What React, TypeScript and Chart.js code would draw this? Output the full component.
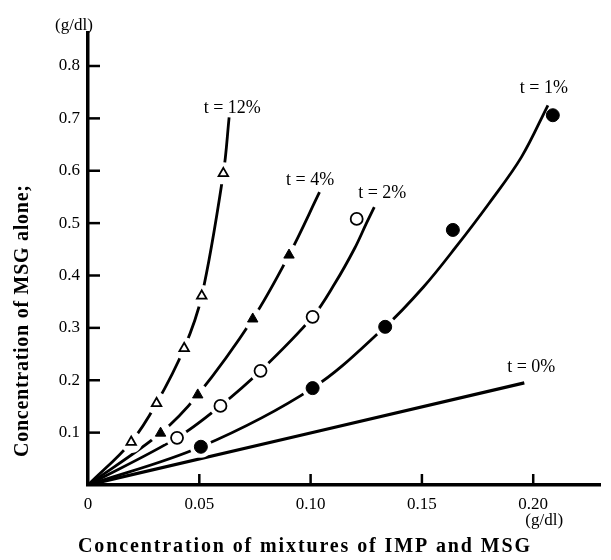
import React, { useEffect, useRef } from "react";
import { Chart, registerables } from "chart.js";

Chart.register(...registerables);

// ---- axis ticks ----
const xTicks = [0, 0.05, 0.1, 0.15, 0.2];
const yTicks = [0.1, 0.2, 0.3, 0.4, 0.5, 0.6, 0.7, 0.8];

// ---- measured points (markers) ----
const t12Marks = [[0.0194, 0.082], [0.0308, 0.156], [0.0432, 0.261], [0.0511, 0.361], [0.0608, 0.595]];
const t4Marks = [[0.0326, 0.099], [0.0493, 0.172], [0.074, 0.317], [0.0903, 0.439]];
const t2Marks = [[0.04, 0.09], [0.0595, 0.151], [0.0775, 0.218], [0.1009, 0.321], [0.1207, 0.508]];
const t1Marks = [[0.0507, 0.073], [0.1009, 0.185], [0.1335, 0.302], [0.1639, 0.487], [0.2088, 0.706]];

// ---- fitted curves ----
const t12Curve = [[0, 0], [0.0194, 0.082], [0.0308, 0.156], [0.0432, 0.261], [0.0511, 0.361], [0.0608, 0.595], [0.0634, 0.702]];
const t4Curve = [[0, 0], [0.0326, 0.099], [0.0493, 0.172], [0.074, 0.317], [0.0903, 0.439], [0.104, 0.559]];
const t2Curve = [[0, 0], [0.04, 0.09], [0.0595, 0.151], [0.0775, 0.218], [0.1009, 0.321], [0.111, 0.3855], [0.1198, 0.452], [0.1251, 0.5], [0.1286, 0.5305]];
const t1Curve = [[0, 0], [0.0507, 0.073], [0.1009, 0.185], [0.1335, 0.302], [0.1507, 0.378], [0.1652, 0.454], [0.1802, 0.538], [0.1947, 0.626], [0.2066, 0.725]];
const t0Curve = [[0, 0], [0.196, 0.195]];

// ---- curve labels ----
const curveLabelText = ["t = 12%", "t = 4%", "t = 2%", "t = 1%", "t = 0%"];
const curveLabelX = [0.0648, 0.0998, 0.1322, 0.2048, 0.1991];
const curveLabelY = [0.7195, 0.582, 0.557, 0.758, 0.225];

const xTitle = "Concentration of mixtures of IMP and MSG";
const yTitle = "Concentration of MSG alone;";
const unitText = "(g/dl)";

const toXY = (arr: number[][]) => arr.map(([x, y]) => ({ x, y }));

const SERIF = '"Liberation Serif", "DejaVu Serif", serif';

function spacedText(ctx: CanvasRenderingContext2D, text: string, cx: number, cy: number, target: number) {
  (ctx as any).letterSpacing = "0px";
  const w = ctx.measureText(text).width;
  const sp = Math.max(0, (target - w) / (text.length - 1));
  (ctx as any).letterSpacing = sp + "px";
  const w2 = ctx.measureText(text).width - sp;
  ctx.textAlign = "left";
  ctx.fillText(text, cx - w2 / 2, cy);
  (ctx as any).letterSpacing = "0px";
}

const overlay = {
  id: "overlay",
  afterDatasetsDraw(chart: any) {
    const { ctx, chartArea, scales } = chart;
    const xs = scales.x;
    const ys = scales.y;
    ctx.save();
    ctx.strokeStyle = "#000";
    ctx.lineWidth = 2.5;
    ctx.lineCap = "butt";
    xTicks.forEach((v) => {
      if (v === 0) return;
      const px = xs.getPixelForValue(v);
      ctx.beginPath();
      ctx.moveTo(px, chartArea.bottom);
      ctx.lineTo(px, chartArea.bottom - 11);
      ctx.stroke();
    });
    yTicks.forEach((v) => {
      const py = ys.getPixelForValue(v);
      ctx.beginPath();
      ctx.moveTo(chartArea.left, py);
      ctx.lineTo(chartArea.left + 12, py);
      ctx.stroke();
    });

    ctx.fillStyle = "#000";
    ctx.textBaseline = "middle";
    ctx.textAlign = "center";
    ctx.font = "18px " + SERIF;
    curveLabelText.forEach((t, i) => {
      ctx.fillText(t, xs.getPixelForValue(curveLabelX[i]), ys.getPixelForValue(curveLabelY[i]));
    });

    // units
    ctx.font = "17px " + SERIF;
    ctx.textAlign = "center";
    ctx.fillText(unitText, chartArea.left - 14, chartArea.top - 7);
    ctx.fillText(unitText, xs.getPixelForValue(0.2) + 11, chartArea.bottom + 36);

    // axis titles
    ctx.font = "bold 20px " + SERIF;
    spacedText(ctx, xTitle, 304, 547, 452);
    ctx.save();
    ctx.translate(23, 321);
    ctx.rotate(-Math.PI / 2);
    spacedText(ctx, yTitle, 0, 0, 272);
    ctx.restore();

    ctx.restore();
  },
};

function markDataset(data: number[][], style: string, filled: boolean, radius: number) {
  return {
    data: toXY(data),
    pointStyle: style,
    pointRadius: radius,
    pointBackgroundColor: filled ? "#000" : "#fff",
    pointBorderColor: "#000",
    pointBorderWidth: filled ? 1 : 1.8,
    order: 0,
  };
}

function haloDataset(data: number[][]) {
  return {
    data: toXY(data),
    pointStyle: "circle",
    pointRadius: 11,
    pointBackgroundColor: "#fff",
    pointBorderColor: "#fff",
    pointBorderWidth: 0,
    order: 1,
  };
}

function curveDataset(data: number[][], width: number) {
  return {
    data: toXY(data),
    showLine: true,
    pointRadius: 0,
    borderColor: "#000",
    borderWidth: width,
    tension: 0.35,
    fill: false,
    order: 2,
  };
}

export default function App() {
  const ref = useRef<HTMLCanvasElement | null>(null);

  useEffect(() => {
    if (!ref.current) return;
    const chart = new Chart(ref.current, {
      type: "scatter",
      data: {
        datasets: [
          markDataset(t12Marks, "triangle", false, 5.5),
          markDataset(t4Marks, "triangle", true, 6),
          markDataset(t2Marks, "circle", false, 6),
          markDataset(t1Marks, "circle", true, 6.5),
          haloDataset(t12Marks),
          haloDataset(t4Marks),
          haloDataset(t2Marks.slice(0, 4)),
          haloDataset(t1Marks.slice(0, 3)),
          curveDataset(t12Curve, 2.8),
          curveDataset(t4Curve, 2.8),
          curveDataset(t2Curve, 2.8),
          curveDataset(t1Curve, 2.8),
          curveDataset(t0Curve, 3.2),
        ] as any,
      },
      options: {
        animation: false,
        responsive: true,
        maintainAspectRatio: false,
        layout: { padding: { top: 33, left: 0, right: 0, bottom: 0 } },
        plugins: { legend: { display: false }, tooltip: { enabled: false } },
        events: [],
        scales: {
          x: {
            type: "linear",
            min: 0,
            max: 0.23,
            afterBuildTicks: (s: any) => {
              s.ticks = xTicks.map((v) => ({ value: v }));
            },
            afterFit: (s: any) => {
              s.height = 75;
            },
            grid: { display: false, drawTicks: false },
            border: { display: true, color: "#000", width: 3.5 },
            ticks: {
              color: "#000",
              font: { family: SERIF, size: 17 },
              padding: 9,
              maxRotation: 0,
              autoSkip: false,
              callback: (v: any) => (Number(v) === 0 ? "0" : Number(v).toFixed(2)),
            },
          },
          y: {
            type: "linear",
            min: 0,
            max: 0.863,
            afterBuildTicks: (s: any) => {
              s.ticks = yTicks.map((v) => ({ value: v }));
            },
            afterFit: (s: any) => {
              s.width = 88;
            },
            grid: { display: false, drawTicks: false },
            border: { display: true, color: "#000", width: 3.5 },
            ticks: {
              color: "#000",
              font: { family: SERIF, size: 17 },
              padding: 8,
              autoSkip: false,
              callback: (v: any) => Number(v).toFixed(1),
            },
          },
        },
      },
      plugins: [overlay],
    } as any);
    return () => chart.destroy();
  }, []);

  return (
    <div style={{ position: "absolute", left: 0, top: 0, width: 611, height: 560, background: "#fff" }}>
      <canvas ref={ref} />
    </div>
  );
}
